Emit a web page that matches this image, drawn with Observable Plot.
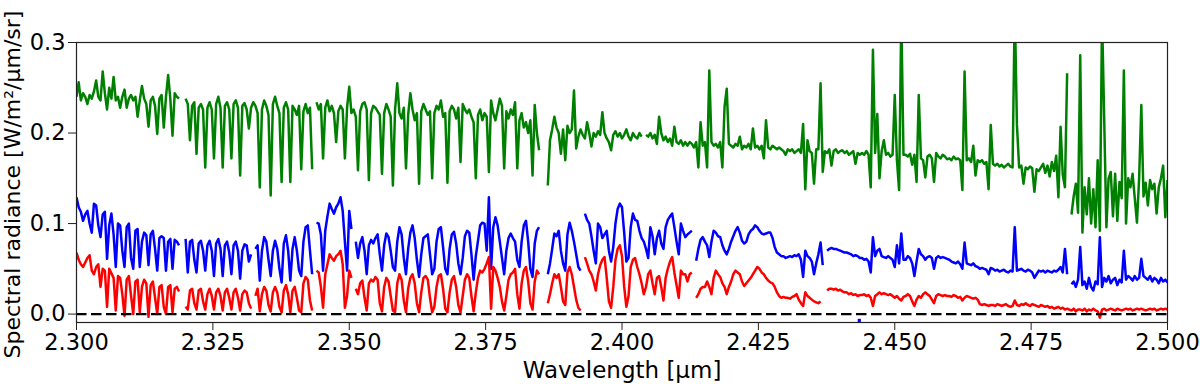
<!DOCTYPE html>
<html><head><meta charset="utf-8">
<script src="https://cdn.jsdelivr.net/npm/d3@7"></script>
<script src="https://cdn.jsdelivr.net/npm/@observablehq/plot@0.6"></script>
<style>body{margin:0;background:#fff}</style>
</head><body><div id="chart"></div>
<script>
// Wavelength grid of the spectra (µm): first sample and sample spacing
const wlStart = 2.300, wlStep = 0.0004;

// Spectral radiance, in 1e-3 W/m²/µm/sr (null = no data)
const green = [
240,256,236,244,240,232,242,238,246,258,240,236,268,244,226,250,238,262,236,240,
228,240,248,228,238,242,236,240,218,236,252,238,232,207,236,240,230,199,238,242,
206,240,264,238,197,244,240,238,null,null,238,232,192,230,234,177,228,232,226,162,
228,234,226,172,232,240,228,162,230,234,226,172,232,236,228,153,230,233,226,205,
228,234,230,222,140,226,236,230,220,131,232,240,230,222,146,228,234,226,146,230,
226,220,230,160,224,232,222,228,160,null,234,226,232,172,228,236,224,230,222,190,
224,230,226,172,228,251,222,226,218,159,224,232,234,226,148,222,230,228,224,220,
155,222,232,226,218,142,226,255,222,216,228,161,220,244,226,214,222,144,224,232,
226,220,224,150,222,230,226,236,218,222,145,224,230,226,216,228,168,232,226,222,
226,218,212,150,220,226,214,222,218,157,236,222,214,226,238,230,161,224,216,226,
220,234,161,214,222,206,212,200,214,153,231,200,181,null,null,null,142,192,204,218,
206,200,177,204,170,208,200,204,247,183,196,204,198,194,212,200,185,200,196,202,
198,223,200,194,190,181,198,202,196,200,194,198,204,196,192,200,196,194,200,196,
null,198,196,200,194,198,188,218,200,192,196,190,194,186,207,190,188,192,186,190,
186,190,188,184,190,162,212,186,190,162,269,190,186,188,184,190,162,229,249,188,
186,184,188,186,196,182,186,184,188,182,205,184,186,182,186,172,214,184,182,186,
184,182,184,182,180,176,182,180,182,178,180,182,178,210,138,192,180,178,144,182,
182,255,157,180,178,182,164,180,182,178,180,181,178,180,176,178,180,166,178,176,
178,176,180,176,140,292,178,221,150,180,192,176,178,174,176,242,170,137,330,176,
176,174,177,165,176,146,242,172,170,151,174,176,172,146,178,174,172,176,174,171,
172,170,174,171,172,170,137,268,170,172,168,186,153,170,168,170,166,168,138,209,
166,164,166,163,165,162,164,166,163,162,340,209,162,164,144,162,160,163,161,135,
160,158,162,166,156,164,152,168,158,175,129,207,154,140,266,null,110,130,144,112,
286,90,140,110,150,100,138,96,170,92,330,214,96,150,157,108,155,103,146,128,
269,100,150,140,155,128,101,150,231,130,145,120,148,138,144,111,140,150,164,107,
148];

const blue = [
129,118,113,103,110,114,100,90,122,120,98,85,110,113,61,98,111,88,52,100,
98,70,52,96,100,62,50,92,94,52,80,90,87,54,88,92,72,48,84,86,
84,48,80,83,50,82,80,76,null,null,83,46,80,82,60,46,78,81,70,48,
76,81,70,42,78,83,72,42,76,80,68,44,76,80,70,39,70,77,76,58,
66,null,72,76,37,70,85,80,60,42,70,81,72,50,35,78,87,70,37,72,
85,70,48,42,80,96,98,70,44,null,101,100,88,48,92,108,122,116,111,118,
122,129,114,80,48,114,94,null,80,62,78,85,70,44,76,82,78,84,88,66,
48,76,89,85,70,52,48,80,96,88,62,44,72,90,98,84,60,41,66,84,
86,88,66,44,50,80,94,96,74,50,44,72,88,91,78,56,44,62,86,92,
90,66,38,64,81,98,101,100,70,129,50,96,107,98,80,62,44,70,84,89,
84,80,60,52,80,98,103,80,50,41,78,92,96,null,null,null,44,56,72,89,
86,92,70,56,48,88,101,92,80,66,52,48,null,111,104,100,86,70,56,100,
96,84,88,92,70,58,74,100,116,122,118,90,58,62,96,111,104,103,92,84,
80,72,62,96,86,66,84,92,78,72,96,104,108,111,96,80,66,100,92,85,
88,90,92,null,59,72,82,85,80,76,63,80,92,90,86,85,76,70,66,72,
80,86,92,96,90,81,78,80,88,92,94,98,96,92,89,88,89,90,90,84,
74,68,66,64,64,62,63,64,63,65,64,66,60,41,70,64,62,58,44,56,
66,79,54,null,70,72,73,72,72,71,70,69,68,68,67,66,64,65,64,62,
62,60,61,58,46,85,64,70,72,64,63,62,64,62,60,52,76,56,89,60,
60,64,62,56,42,58,72,66,64,60,63,64,62,50,62,64,62,63,62,61,
60,58,57,56,58,55,50,79,56,55,54,56,53,52,50,51,50,49,44,51,
50,48,49,47,48,49,47,46,48,47,96,48,49,50,48,47,49,48,46,40,
44,48,47,48,46,48,47,46,48,47,49,52,46,72,44,null,33,36,30,38,
74,32,36,28,40,30,26,36,33,85,30,40,36,42,34,38,40,32,38,35,
70,38,42,40,37,42,38,40,61,42,40,38,42,36,40,38,34,40,36,38,
35];

const red = [
68,60,55,52,57,62,65,48,44,52,55,30,50,48,8,50,45,40,4,42,
40,22,-2,38,42,20,0,36,38,2,30,38,34,-3,32,36,18,0,30,32,
8,0,30,32,2,28,30,25,null,null,8,5,26,28,12,5,26,28,14,5,
22,28,20,5,24,28,20,4,24,28,18,5,24,28,18,4,22,26,24,12,
6,null,20,28,3,22,30,26,10,3,24,30,24,8,2,26,32,22,2,26,
30,18,4,2,34,41,38,15,4,null,48,46,30,7,44,55,66,62,59,64,
66,70,55,7,20,48,40,null,28,22,34,37,18,4,34,38,36,41,38,12,
3,30,40,36,20,4,2,34,44,38,15,2,28,40,44,34,12,2,24,40,
42,38,18,2,8,30,42,44,28,6,2,24,38,42,30,10,2,20,38,44,
40,20,3,24,40,48,46,50,56,63,6,52,48,40,30,14,4,20,38,44,
46,50,22,6,34,48,52,36,12,5,36,48,44,null,null,null,12,22,34,44,
40,44,30,14,10,46,52,44,30,16,7,4,null,63,56,48,44,36,26,44,
54,60,63,40,14,7,30,60,72,76,64,30,8,20,52,60,62,52,44,34,
22,30,44,48,34,22,40,42,30,15,40,50,58,63,46,32,18,48,44,44,
36,44,46,null,18,22,28,30,30,36,30,22,40,48,44,41,34,30,22,30,
36,44,48,46,44,36,31,34,37,40,44,48,52,50,46,44,40,37,35,34,
30,24,20,18,19,18,18,17,19,20,22,16,12,9,24,20,18,16,14,13,
12,14,null,null,26,28,28,27,28,26,27,25,24,24,22,23,21,22,20,21,
21,22,20,21,18,9,20,22,24,22,23,22,21,22,20,18,20,17,15,19,
20,22,20,14,9,16,20,18,22,24,22,20,16,12,20,22,21,20,21,20,
20,19,21,20,18,19,15,18,20,19,18,17,18,16,11,10,11,10,9,10,
10,9,11,10,9,10,11,9,8,9,15,10,9,11,10,12,10,9,11,10,
9,8,10,9,8,9,7,8,6,7,8,6,7,5,6,5,4,6,3,5,
5,4,6,3,5,4,6,4,3,-4,5,6,4,5,6,5,4,6,5,4,
5,6,5,6,4,5,6,5,6,5,4,5,6,5,6,4,5,6,5,6,
5];

// isolated blue sample below zero
const blueOutlierWl = [2.4435];
const blueOutlierVal = [-7];

// zero reference
const zeroLine = [0];

// axes
const xTicks = [2.300, 2.325, 2.350, 2.375, 2.400, 2.425, 2.450, 2.475, 2.500];
const xTickLabels = ["2.300","2.325","2.350","2.375","2.400","2.425","2.450","2.475","2.500"];
const yTicks = [0, 0.1, 0.2, 0.3];
const yTickLabels = ["0.0","0.1","0.2","0.3"];
const xLabel = "Wavelength [µm]";
const yLabel = "Spectral radiance [W/m²/µm/sr]";

const wl = green.map((_, i) => wlStart + i * wlStep);
const rows = arr => arr.map((v, i) => ({x: wl[i], y: v == null ? NaN : v / 1000}));
const outliers = blueOutlierWl.map((w, i) => ({x: w, y: blueOutlierVal[i] / 1000}));

const lineOpts = {x: "x", y: "y", strokeWidth: 2.5, strokeLinejoin: "round", strokeLinecap: "butt", clip: true};

const chart = Plot.plot({
  width: 1200, height: 384,
  marginLeft: 76, marginRight: 33, marginTop: 42, marginBottom: 62,
  style: {fontFamily: "'DejaVu Sans', sans-serif", background: "#fff", color: "#000"},
  x: {domain: [2.3, 2.5], label: null},
  y: {domain: [-0.0093, 0.3], label: null},
  marks: [
    Plot.line(rows(green), {...lineOpts, stroke: "#008000"}),
    Plot.line(rows(blue), {...lineOpts, stroke: "#0000ff"}),
    Plot.line(rows(red), {...lineOpts, stroke: "#ff0000"}),
    Plot.ruleY(zeroLine, {stroke: "#000", strokeWidth: 2.4, strokeDasharray: "10.5,4.5"}),
    Plot.dot(outliers, {x: "x", y: "y", fill: "#0000ff", r: 1.8, symbol: "square"}),
    Plot.frame({stroke: "#222", strokeWidth: 1.2}),
    Plot.axisX(xTicks, {tickSize: 8, tickPadding: 4, fontSize: 22.5, label: null, stroke: "#222",
      tickFormat: d => xTickLabels[xTicks.indexOf(d)]}),
    Plot.axisY(yTicks, {tickSize: 8, tickPadding: 3, fontSize: 22.5, label: null, stroke: "#222",
      tickFormat: d => yTickLabels[yTicks.indexOf(d)]}),
    Plot.text([xLabel], {frameAnchor: "bottom", dy: 48, lineAnchor: "middle", textAnchor: "middle", fontSize: 23}),
    Plot.text([yLabel], {frameAnchor: "left", dx: -64, dy: 2, rotate: -90, textAnchor: "middle", lineAnchor: "middle", fontSize: 22})
  ]
});
document.getElementById("chart").appendChild(chart);
</script>
</body></html>
